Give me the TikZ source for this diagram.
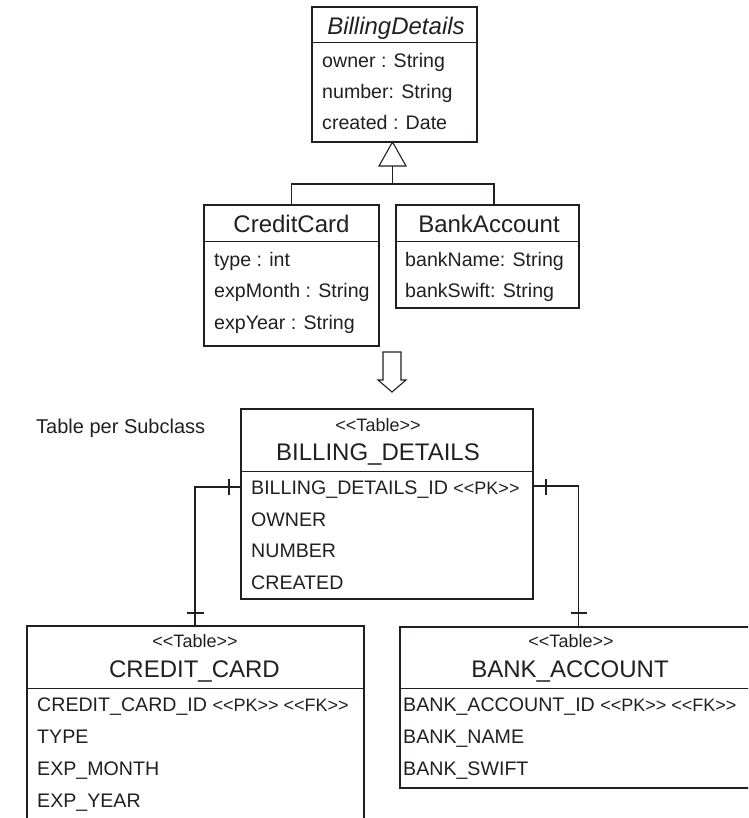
\documentclass[tikz,border=0pt]{standalone}
\usepackage{fontspec}
\setmainfont{Liberation Sans}[Ligatures=TeXOff]
\definecolor{ink}{RGB}{35,31,32}
\begin{document}
\begin{tikzpicture}[x=1pt,y=-1pt,
  box/.style={draw=ink, line width=1.2pt, inner sep=0pt, rectangle},
  ln/.style={draw=ink, line width=1.1pt},
  hdr/.style={anchor=base, inner sep=0pt, text=ink, font=\fontsize{24}{28}\selectfont},
  attr/.style={anchor=base west, inner sep=0pt, text=ink, font=\fontsize{19.6}{23}\selectfont},
  ster/.style={anchor=base, inner sep=0pt, text=ink, font=\fontsize{18}{21}\selectfont},
  lbl/.style={anchor=base west, inner sep=0pt, text=ink, font=\fontsize{20}{24}\selectfont}]
\newcommand{\smtag}[1]{{\fontsize{18}{21}\selectfont #1}}
\useasboundingbox (0,0) rectangle (748,818);
\begin{scope}
\clip (0,0) rectangle (748,818);

% ---------- class diagram ----------
\node[box, minimum width=165pt, minimum height=135pt] (BD) at (394.5,74.5) {};
\draw[ln] ([yshift=-36pt]BD.north west) -- ([yshift=-36pt]BD.north east);
\node[hdr] (BDh) at (396,35) {\itshape BillingDetails};
\node[attr] (BDa1) at (322,68) {owner : String};
\node[attr] (BDa2) at (322,99) {number: String};
\node[attr] (BDa3) at (322,130) {created : Date};

\node[box, minimum width=175pt, minimum height=141pt] (CC) at (291.5,275.5) {};
\draw[ln] ([yshift=-37pt]CC.north west) -- ([yshift=-37pt]CC.north east);
\node[hdr] (CCh) at (291.5,233) {CreditCard};
\node[attr] (CCa1) at (214,266) {type : int};
\node[attr] (CCa2) at (214,297) {expMonth : String};
\node[attr] (CCa3) at (214,329) {expYear : String};

\node[box, minimum width=183pt, minimum height=103pt] (BA) at (487.5,256.5) {};
\draw[ln] ([yshift=-37pt]BA.north west) -- ([yshift=-37pt]BA.north east);
\node[hdr] (BAh) at (489,233) {BankAccount};
\node[attr] (BAa1) at (405,266) {bankName: String};
\node[attr] (BAa2) at (405,297) {bankSwift: String};

% generalization
\coordinate (tip) at (392.5,142);
\coordinate (tribase) at (392.5,166);
\coordinate (junc) at (392.5,184);
\coordinate (batop) at (494,205);
\draw[ln] (tip) -- (379,166) -- (406,166) -- cycle;
\draw[ln] (tribase) -- (junc);
\draw[ln] (CC.north) |- (junc) -| (batop);

% mapping arrow
\draw[ln, fill=white] (383,352) -- (401,352) -- (401,380) -- (406,380) -- (392,392) -- (378,380) -- (383,380) -- cycle;

% ---------- tables ----------
\node[lbl] (lab) at (36,433) {Table per Subclass};

\node[box, minimum width=292pt, minimum height=190pt] (BDT) at (387,504) {};
\draw[ln] ([yshift=-63pt]BDT.north west) -- ([yshift=-63pt]BDT.north east);
\node[ster] (BDTs) at (378,431) {<<Table>>};
\node[hdr] (BDTh) at (378,460) {BILLING\_DETAILS};
\node[attr] (BDTr1) at (251,494) {BILLING\_DETAILS\_ID \smtag{<<PK>>}};
\node[attr] (BDTr2) at (251,526) {OWNER};
\node[attr] (BDTr3) at (251,557) {NUMBER};
\node[attr] (BDTr4) at (251,589) {CREATED};

\node[box, minimum width=337pt, minimum height=204pt] (CCT) at (195.5,728) {};
\draw[ln] ([yshift=-63pt]CCT.north west) -- ([yshift=-63pt]CCT.north east);
\node[ster] (CCTs) at (195,647) {<<Table>>};
\node[hdr] (CCTh) at (194.5,677) {CREDIT\_CARD};
\node[attr] (CCTr1) at (37,711) {CREDIT\_CARD\_ID \smtag{<<PK>> <<FK>>}};
\node[attr] (CCTr2) at (37,743) {TYPE};
\node[attr] (CCTr3) at (37,775) {EXP\_MONTH};
\node[attr] (CCTr4) at (37,807) {EXP\_YEAR};

\node[box, minimum width=370pt, minimum height=161pt] (BAT) at (585,707.5) {};
\draw[ln] ([yshift=-62pt]BAT.north west) -- ([yshift=-62pt]BAT.north east);
\node[ster] (BATs) at (571,647) {<<Table>>};
\node[hdr] (BATh) at (570,677) {BANK\_ACCOUNT};
\node[attr] (BATr1) at (403,711) {BANK\_ACCOUNT\_ID \smtag{<<PK>> <<FK>>}};
\node[attr] (BATr2) at (403,743) {BANK\_NAME};
\node[attr] (BATr3) at (403,775) {BANK\_SWIFT};

% relationships
\coordinate (lc) at (195,487);
\draw[ln] (BDT.west |- lc) -- (lc) -- (lc |- CCT.north);
\draw[ln] (229,479) -- (229,495);
\draw[ln] (187,613) -- (204,613);

\coordinate (rc) at (578.5,486);
\draw[ln] (BDT.east |- rc) -- (rc) -- (rc |- BAT.north);
\draw[ln] (546,479) -- (546,495);
\draw[ln] (571,613) -- (587,613);
\end{scope}
\end{tikzpicture}
\end{document}
